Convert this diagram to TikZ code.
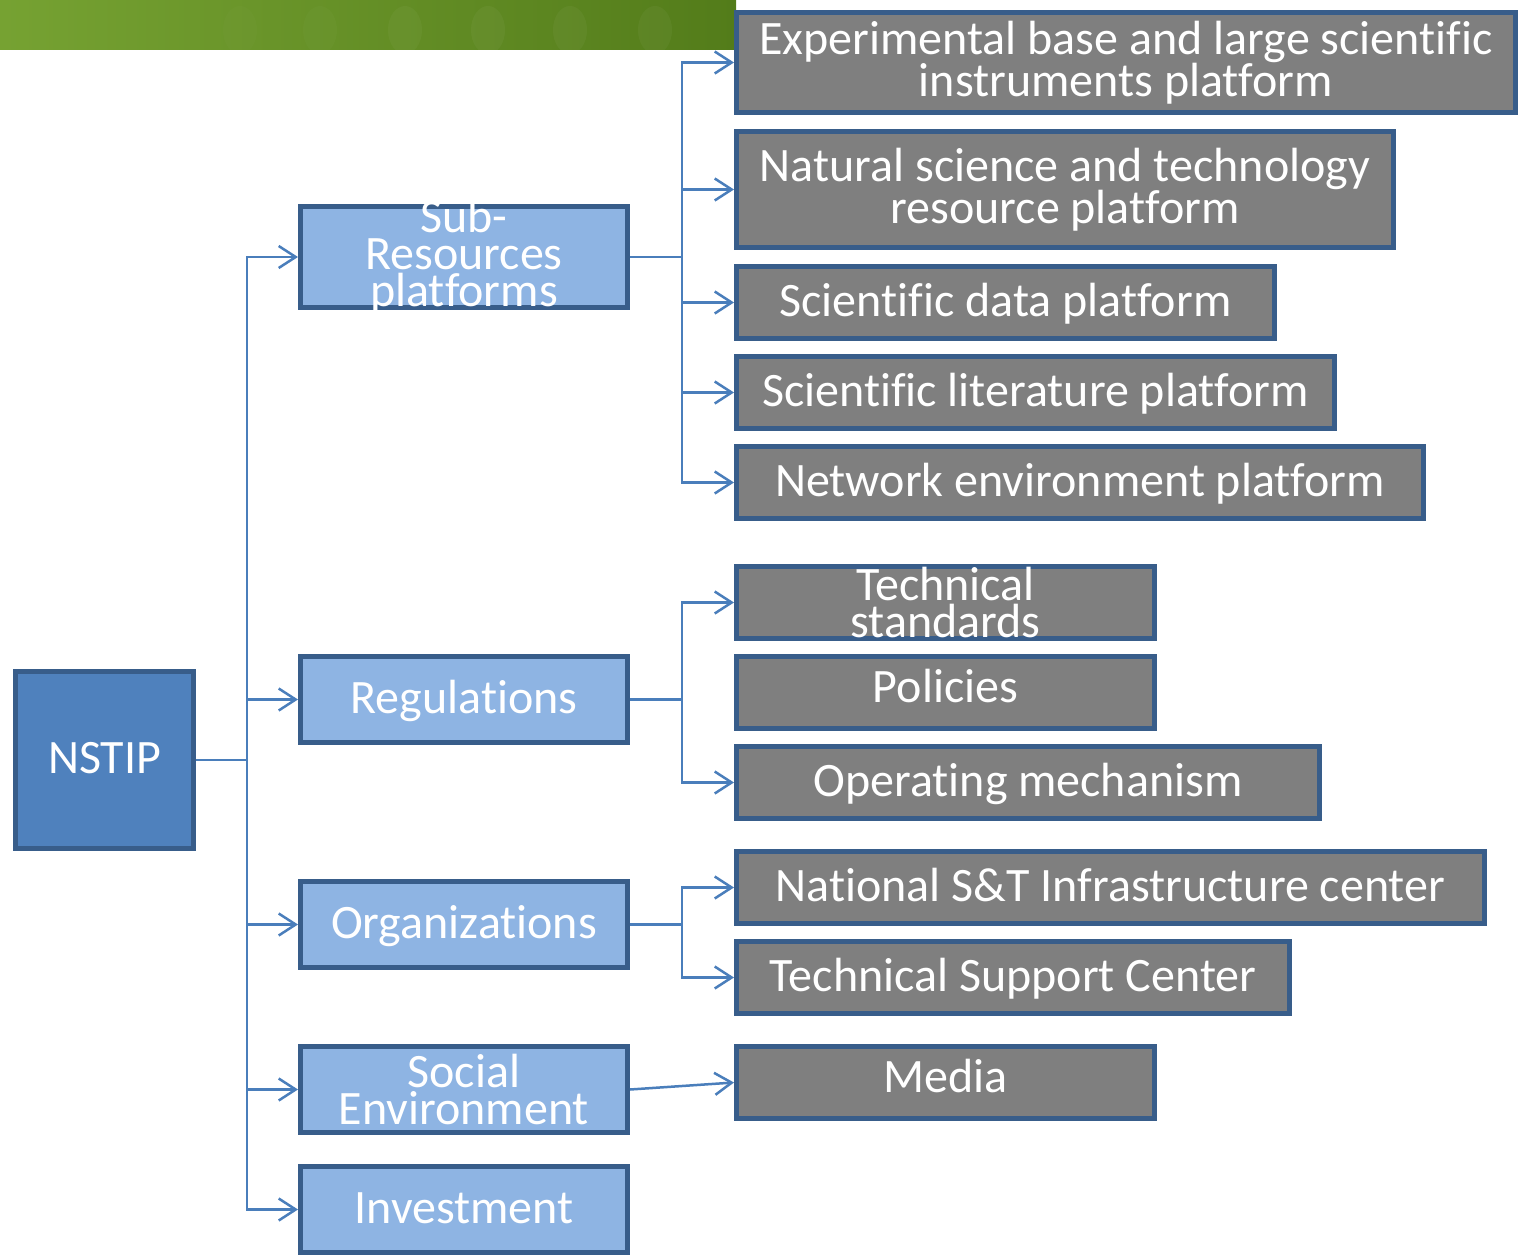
\documentclass[tikz,border=0pt]{standalone}
\usepackage{fontspec}
\setmainfont{Carlito}[Ligatures={NoCommon,NoRare,NoContextual}]
\usetikzlibrary{arrows.meta}
\definecolor{banL}{HTML}{76A232}
\definecolor{banR}{HTML}{537C1A}
\definecolor{rootfill}{HTML}{4F81BD}
\definecolor{edge}{HTML}{385D8A}
\definecolor{midfill}{HTML}{8EB4E3}
\definecolor{leaffill}{HTML}{7F7F7F}
\definecolor{wire}{HTML}{4A7EBB}
\tikzset{
  box/.style={draw=edge, line width=5pt, rectangle, inner sep=0pt},
  rootbox/.style={box, fill=rootfill},
  midbox/.style={box, fill=midfill},
  leafbox/.style={box, fill=leaffill},
  txt/.style={text=white, font=\fontsize{48}{37}\selectfont, align=center, inner sep=0pt},
  txtone/.style={txt, text height=29pt, text depth=2pt},
  conn/.style={draw=wire, line width=2.5pt},
  arr/.style={conn, -{Straight Barb[length=17pt,width=22pt,line width=2.5pt]}},
}
\begin{document}
\begin{tikzpicture}[x=1pt,y=1pt]
\useasboundingbox (0,0) rectangle (1518,-1255);
\fill[white] (0,0) rectangle (1518,-1255);

% green header band with soft blotches
\shade[left color=banL, right color=banR] (0,0) rectangle (736,-50);
\foreach \bx/\op in {240/0.015,320/0.02,405/0.035,488/0.04,570/0.04,655/0.04}
  \fill[white, opacity=\op] (\bx,-30) ellipse (17pt and 24pt);

% root
\node[rootbox, minimum width=178pt, minimum height=177pt,
      label={[txtone]center:NSTIP}] (root) at (104.5,-760) {};

% second level
\node[midbox, minimum width=327pt, minimum height=101pt,
      label={[txt]center:{Sub-\\Resources\\platforms}}] (sub) at (464,-257) {};
\node[midbox, minimum width=327pt, minimum height=86pt,
      label={[txtone]center:Regulations}] (reg) at (464,-699.5) {};
\node[midbox, minimum width=327pt, minimum height=86pt,
      label={[txtone]center:Organizations}] (org) at (464,-924.5) {};
\node[midbox, minimum width=327pt, minimum height=86pt,
      label={[txt]center:{Social\\Environment}}] (soc) at (464,-1089.5) {};
\node[midbox, minimum width=327pt, minimum height=86pt,
      label={[txtone]center:Investment}] (inv) at (464,-1209.5) {};

% third level
\node[leafbox, minimum width=779pt, minimum height=100pt,
      label={[txt]center:{Experimental base and large scientific\\instruments platform}}] (exp) at (1126,-62.5) {};
\node[leafbox, minimum width=657pt, minimum height=116pt,
      label={[txt]center:{Natural science and technology\\resource platform}}] (nat) at (1065,-189.5) {};
\node[leafbox, minimum width=538pt, minimum height=72pt,
      label={[txtone]center:Scientific data platform}] (data) at (1005.5,-302.5) {};
\node[leafbox, minimum width=598pt, minimum height=72pt,
      label={[txtone]center:Scientific literature platform}] (lit) at (1035.5,-392.5) {};
\node[leafbox, minimum width=687pt, minimum height=72pt,
      label={[txtone]center:Network environment platform}] (net) at (1080,-482.5) {};
\node[leafbox, minimum width=418pt, minimum height=72pt,
      label={[txt]center:{Technical\\standards}}] (std) at (945.5,-602.5) {};
\node[leafbox, minimum width=418pt, minimum height=72pt,
      label={[txtone,yshift=4pt]center:Policies}] (pol) at (945.5,-692.5) {};
\node[leafbox, minimum width=583pt, minimum height=72pt,
      label={[txtone]center:Operating mechanism}] (ops) at (1028,-782.5) {};
\node[leafbox, minimum width=748pt, minimum height=72pt,
      label={[txtone]center:National S\&T Infrastructure center}] (infra) at (1110.5,-887.5) {};
\node[leafbox, minimum width=553pt, minimum height=72pt,
      label={[txtone]center:Technical Support Center}] (tsc) at (1013,-977.5) {};
\node[leafbox, minimum width=418pt, minimum height=72pt,
      label={[txtone,yshift=4pt]center:Media}] (media) at (945.5,-1082.5) {};

% junction points of the elbow connectors
\coordinate (jr) at (247,-760);
\coordinate (js) at (682,-257);
\coordinate (jg) at (682,-699.5);
\coordinate (jo) at (682,-924.5);

% root to second level
\draw[conn] (root.east) -- (jr);
\foreach \t in {sub,reg,org,soc,inv}
  \draw[arr] (jr) |- (\t.west);

% platforms
\draw[conn] (sub.east) -- (js);
\foreach \t in {exp,nat,data,lit,net}
  \draw[arr] (js) |- (\t.west);

% regulations
\draw[conn] (reg.east) -- (jg);
\foreach \t in {std,ops}
  \draw[arr] (jg) |- (\t.west);

% organizations
\draw[conn] (org.east) -- (jo);
\foreach \t in {infra,tsc}
  \draw[arr] (jo) |- (\t.west);

% social environment
\draw[arr] (soc.east) -- (media.west);
\end{tikzpicture}
\end{document}
